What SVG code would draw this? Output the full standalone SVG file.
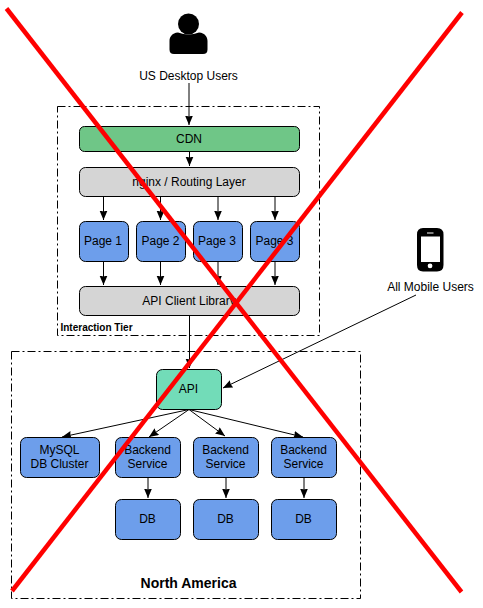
<svg xmlns="http://www.w3.org/2000/svg" width="483" height="608" viewBox="0 0 483 608">
<style>
text{font-family:"Liberation Sans",Arial,sans-serif;font-size:12px;fill:#000;text-anchor:middle}
.n{stroke:#000;stroke-width:1}
.b{fill:#6d9eeb}.g{fill:#d5d5d5}
.c{fill:none;stroke:#000;stroke-width:1}
.f{fill:none;stroke:#000;stroke-width:1;stroke-dasharray:8 3 2 3}
.x{fill:none;stroke:#f00;stroke-width:4.500}
</style>
<defs><marker id="a" markerUnits="userSpaceOnUse" markerWidth="11" markerHeight="9" refX="9.500" refY="4" orient="auto"><path d="M0 0L9.500 4L0 8L1 4Z" fill="#000"/></marker></defs>
<rect id="interaction-tier" class="f" x="57.500" y="106.500" width="262" height="229"/>
<rect id="north-america" class="f" x="11.500" y="351.500" width="349" height="247"/>
<g id="connectors">
<path class="c" marker-end="url(#a)" d="M189 83V125"/>
<path class="c" marker-end="url(#a)" d="M189.500 151V166"/>
<path class="c" marker-end="url(#a)" d="M103.500 196V220"/>
<path class="c" marker-end="url(#a)" d="M160.500 196V220"/>
<path class="c" marker-end="url(#a)" d="M218 196V220"/>
<path class="c" marker-end="url(#a)" d="M275 196V220"/>
<path class="c" marker-end="url(#a)" d="M103.500 261V285"/>
<path class="c" marker-end="url(#a)" d="M160.500 261V285"/>
<path class="c" marker-end="url(#a)" d="M218 261V285"/>
<path class="c" marker-end="url(#a)" d="M275 261V285"/>
<path class="c" marker-end="url(#a)" d="M189.500 315.500V368"/>
<path class="c" marker-end="url(#a)" d="M416 295L223 388"/>
<path class="c" marker-end="url(#a)" d="M189 409.500L62 437"/>
<path class="c" marker-end="url(#a)" d="M189 409.500L149 437"/>
<path class="c" marker-end="url(#a)" d="M189 409.500L225 436"/>
<path class="c" marker-end="url(#a)" d="M189 409.500L303 437"/>
<path class="c" marker-end="url(#a)" d="M148 477V498"/>
<path class="c" marker-end="url(#a)" d="M226 477V498"/>
<path class="c" marker-end="url(#a)" d="M304 477V498"/>
</g>
<g id="us-desktop-users">
<circle cx="188.500" cy="24" r="10.500"/>
<path d="M178 32.500Q188.500 36.500 199 32.500C205 33 207.500 37 207.500 41V49.500Q207.500 54 203 54H174Q169.500 54 169.500 49.500V41C169.500 37 172 33 178 32.500Z"/>
<text x="188.500" y="80">US Desktop Users</text>
</g>
<g id="cdn"><rect class="n" x="79.500" y="126.500" width="220" height="25" rx="5" fill="#6fc687"/><text x="189" y="143">CDN</text></g>
<g id="nginx"><rect class="n g" x="79.500" y="167.500" width="220" height="29" rx="6"/><text x="189" y="186">nginx / Routing Layer</text></g>
<g id="page-1"><rect class="n b" x="79.500" y="221.500" width="49" height="40" rx="6"/><text x="103" y="245">Page 1</text></g>
<g id="page-2"><rect class="n b" x="136.500" y="221.500" width="49" height="40" rx="6"/><text x="160.500" y="245">Page 2</text></g>
<g id="page-3"><rect class="n b" x="193.500" y="221.500" width="49" height="40" rx="6"/><text x="217" y="245">Page 3</text></g>
<g id="page-4"><rect class="n b" x="250.500" y="221.500" width="49" height="40" rx="6"/><text x="274.500" y="245">Page 3</text></g>
<g id="api-client"><rect class="n g" x="79.500" y="286.500" width="220" height="29" rx="6"/><text x="189" y="305">API Client Library</text></g>
<text x="96.500" y="331" style="font-size:10px;font-weight:bold">Interaction Tier</text>
<g id="mobile-users">
<path fill-rule="evenodd" d="M423 228H437Q443.500 228 443.500 234.500V265Q443.500 271.500 437 271.500H423Q417 271.500 417 265V234.500Q417 228 423 228ZM421 236.500V262H440V236.500ZM427 232.500V233.500H433.500V232.500ZM430 263.500A2.300 2.300 0 1 0 430.100 268.200A2.300 2.300 0 1 0 430 263.500Z"/>
<text x="430.500" y="291">All Mobile Users</text>
</g>
<g id="api"><rect class="n" x="156.500" y="369.500" width="65" height="40" rx="6" fill="#72dcb8"/><text x="188.500" y="393">API</text></g>
<g id="mysql"><rect class="n b" x="20.500" y="437.500" width="79" height="40" rx="6"/><text x="59.500" y="454">MySQL</text><text x="59.500" y="468">DB Cluster</text></g>
<g id="backend-1"><rect class="n b" x="115.500" y="437.500" width="65" height="40" rx="6"/><text x="147.500" y="454">Backend</text><text x="147.500" y="468">Service</text></g>
<g id="backend-2"><rect class="n b" x="193.500" y="437.500" width="65" height="40" rx="6"/><text x="225.500" y="454">Backend</text><text x="225.500" y="468">Service</text></g>
<g id="backend-3"><rect class="n b" x="271.500" y="437.500" width="65" height="40" rx="6"/><text x="303.500" y="454">Backend</text><text x="303.500" y="468">Service</text></g>
<g id="db-1"><rect class="n b" x="115.500" y="499.500" width="65" height="40" rx="6"/><text x="147.500" y="523">DB</text></g>
<g id="db-2"><rect class="n b" x="193.500" y="499.500" width="65" height="40" rx="6"/><text x="225.500" y="523">DB</text></g>
<g id="db-3"><rect class="n b" x="271.500" y="499.500" width="65" height="40" rx="6"/><text x="303.500" y="523">DB</text></g>
<text x="188.500" y="588" style="font-size:14px;font-weight:bold">North America</text>
<path class="x" d="M6.500 8.500L461.500 592"/>
<path class="x" d="M12 591L462 12.500"/>
</svg>
